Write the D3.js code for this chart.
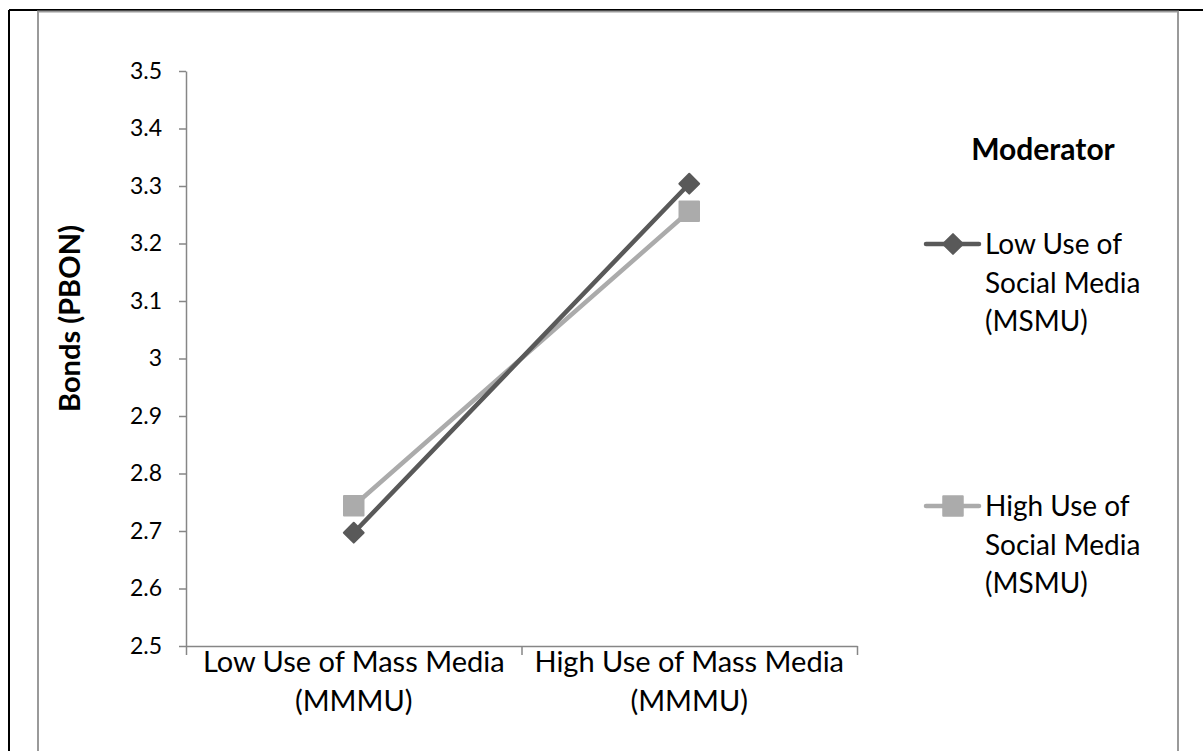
<!DOCTYPE html>
<html>
<head>
<meta charset="utf-8">
<script src="https://cdn.jsdelivr.net/npm/d3@7"></script>
<style>
  html, body { margin: 0; padding: 0; background: #fff; }
  svg { display: block; font-family: Lato, "Open Sans", sans-serif; }
</style>
</head>
<body>
<svg id="chart" width="1203" height="751"></svg>
<script>
// Interaction plot: bonds by mass-media use, moderated by social-media use
const categories = [
  ["Low Use of Mass Media", "(MMMU)"],
  ["High Use of Mass Media", "(MMMU)"]
];
const seriesNames = [
  ["Low Use of", "Social Media", "(MSMU)"],
  ["High Use of", "Social Media", "(MSMU)"]
];
const lowSocial = [2.697, 3.304];
const highSocial = [2.744, 3.256];
const yTicks = [2.5, 2.6, 2.7, 2.8, 2.9, 3.0, 3.1, 3.2, 3.3, 3.4, 3.5];
const yTickLabels = ["2.5", "2.6", "2.7", "2.8", "2.9", "3", "3.1", "3.2", "3.3", "3.4", "3.5"];
const yTitle = "Bonds (PBON)";
const legendTitle = "Moderator";

const svg = d3.select("#chart");
const axisGray = "#868686";
const darkColor = "#595959";
const lightColor = "#ababab";

// page frame lines
svg.append("line").attr("x1", 9).attr("y1", 10).attr("x2", 1203).attr("y2", 10)
  .attr("stroke", "#000").attr("stroke-width", 2);
svg.append("line").attr("x1", 9).attr("y1", 10).attr("x2", 9).attr("y2", 751)
  .attr("stroke", "#000").attr("stroke-width", 2);

// chart area border
svg.append("rect").attr("x", 38).attr("y", 11.5).attr("width", 1140).attr("height", 760)
  .attr("fill", "none").attr("stroke", "#9a9a9a").attr("stroke-width", 2);

const plot = { left: 186, right: 857, top: 71, bottom: 646 };

const y = d3.scaleLinear().domain([2.5, 3.5]).range([plot.bottom, plot.top]);
const x = d3.scaleBand().domain(d3.range(categories.length)).range([plot.left, plot.right]);
const cx = i => x(i) + x.bandwidth() / 2;

// y axis
const yAxis = d3.axisLeft(y).tickValues(yTicks)
  .tickFormat((d, i) => yTickLabels[i]).tickSizeInner(7).tickSizeOuter(0).tickPadding(17);
const gy = svg.append("g").attr("transform", `translate(${plot.left},0)`).call(yAxis);
gy.select(".domain").attr("stroke", axisGray).attr("stroke-width", 1.5);
gy.selectAll(".tick line").attr("stroke", axisGray).attr("stroke-width", 1.5);
gy.selectAll(".tick text").attr("fill", "#000").style("font-size", "23px").style("font-family", "Lato");

// x axis: ticks sit on the category boundaries
const xb = d3.scaleLinear().domain([0, categories.length]).range([plot.left, plot.right]);
const xAxis = d3.axisBottom(xb).tickValues(d3.range(categories.length + 1))
  .tickFormat("").tickSizeInner(9).tickSizeOuter(0);
const gx = svg.append("g").attr("transform", `translate(0,${plot.bottom})`).call(xAxis);
gx.select(".domain").attr("stroke", axisGray).attr("stroke-width", 1.5);
gx.selectAll(".tick line").attr("stroke", axisGray).attr("stroke-width", 1.5);

// category labels
categories.forEach((lines, i) => {
  const t = svg.append("text").attr("x", cx(i)).attr("y", 672)
    .attr("text-anchor", "middle").style("font-size", "29px").attr("fill", "#000");
  lines.forEach((s, k) => t.append("tspan").attr("x", cx(i)).attr("dy", k === 0 ? 0 : 39).text(s));
});

// y title
svg.append("text")
  .attr("transform", `translate(80,${(plot.top + plot.bottom) / 2 - 40}) rotate(-90)`)
  .attr("text-anchor", "middle").style("font-size", "29px").style("font-weight", "bold")
  .attr("fill", "#000").text(yTitle);

// series lines and markers
const line = d3.line().x((d, i) => cx(i)).y(d => y(d));
const diamond = d3.symbol().type(d3.symbolDiamond2).size(250);
const square = d3.symbol().type(d3.symbolSquare).size(380);

function drawSeries(values, color, sym, width) {
  svg.append("path").datum(values).attr("d", line).attr("fill", "none")
    .attr("stroke", color).attr("stroke-width", width).attr("stroke-linecap", "round");
  svg.selectAll(null).data(values).enter().append("path")
    .attr("d", sym)
    .attr("transform", (d, i) => `translate(${cx(i)},${y(d)})`)
    .attr("fill", color).attr("stroke", color).attr("stroke-width", 2).attr("stroke-linejoin", "round");
}
drawSeries(highSocial, lightColor, square, 4.5);
drawSeries(lowSocial, darkColor, diamond, 4.5);

// legend
svg.append("text").attr("x", 1043).attr("y", 160).attr("text-anchor", "middle")
  .style("font-size", "30px").style("font-weight", "bold").attr("fill", "#000").text(legendTitle);

const legendItems = [
  { color: darkColor, sym: diamond, y: 244, names: seriesNames[0] },
  { color: lightColor, sym: square, y: 506, names: seriesNames[1] }
];
legendItems.forEach(it => {
  svg.append("line").attr("x1", 926).attr("x2", 979).attr("y1", it.y).attr("y2", it.y)
    .attr("stroke", it.color).attr("stroke-width", 4.5).attr("stroke-linecap", "round");
  svg.append("path").attr("d", it.sym).attr("transform", `translate(953,${it.y})`)
    .attr("fill", it.color).attr("stroke", it.color).attr("stroke-width", 2).attr("stroke-linejoin", "round");
  const t = svg.append("text").attr("x", 985).attr("y", it.y + 10)
    .style("font-size", "28px").attr("fill", "#000");
  it.names.forEach((s, k) => t.append("tspan").attr("x", 985).attr("dy", k === 0 ? 0 : 38.5).text(s));
});
</script>
</body>
</html>
